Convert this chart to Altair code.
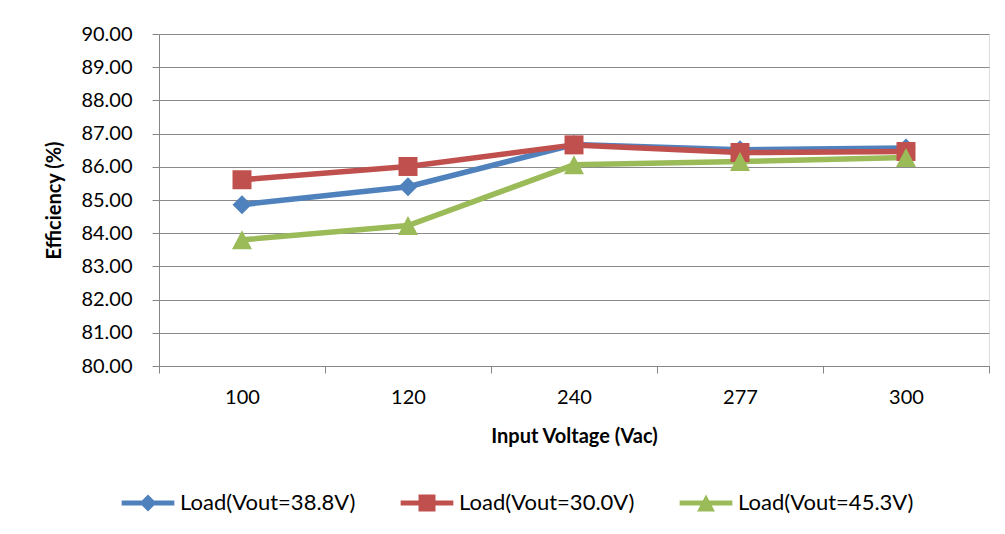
import altair as alt
import pandas as pd

categories = ["100", "120", "240", "277", "300"]
series_names = ["Load(Vout=38.8V)", "Load(Vout=30.0V)", "Load(Vout=45.3V)"]
eff_388 = [84.86, 85.40, 86.67, 86.51, 86.57]
eff_300 = [85.61, 86.01, 86.66, 86.43, 86.46]
eff_453 = [83.80, 84.23, 86.06, 86.16, 86.28]
colors = ["#4F81BD", "#C0504D", "#9BBB59"]

marker_paths = [
    "M0,-1L1,0L0,1L-1,0Z",
    "M-1,-1H1V1H-1Z",
    "M0,-1L1.05,1L-1.05,1Z",
]
bar = "M-3.1,-0.3H3.1V0.3H-3.1Z "
legend_paths = [bar + p for p in marker_paths]

rows = []
for name, vals in zip(series_names, [eff_388, eff_300, eff_453]):
    for c, v in zip(categories, vals):
        rows.append({"voltage": c, "eff": v, "series": name})
df = pd.DataFrame(rows)

FONT = "Lato"

legend = alt.Legend(
    title=None,
    orient="none",
    legendX=-22,
    legendY=458,
    direction="horizontal",
    columns=3,
    symbolSize=289,
    symbolStrokeWidth=0,
    symbolOpacity=1,
    labelOffset=21,
    columnPadding=44,
    labelFont=FONT,
    labelFontSize=22,
    labelColor="#000000",
    labelLimit=400,
    padding=0,
)

x_enc = alt.X(
    "voltage:N",
    sort=categories,
    bandPosition=0.5,
    scale=alt.Scale(type="band", domain=categories, paddingInner=0, paddingOuter=0),
    axis=alt.Axis(
        title="Input Voltage (Vac)",
        tickBand="extent",
        labelAngle=0,
        labelFont=FONT,
        labelFontSize=20,
        labelColor="#000000",
        labelPadding=14,
        tickSize=7,
        tickColor="#868686",
        domainColor="#868686",
        titleFont=FONT,
        titleFontSize=20,
        titleFontWeight="bold",
        titleColor="#000000",
        titlePadding=19,
        grid=False,
    ),
)
y_enc = alt.Y(
    "eff:Q",
    scale=alt.Scale(domain=[80, 90], nice=False, zero=False),
    axis=alt.Axis(
        title="Efficiency (%)",
        values=list(range(80, 91)),
        format=".2f",
        labelFont=FONT,
        labelFontSize=20,
        labelColor="#000000",
        labelPadding=20,
        tickSize=7,
        tickColor="#868686",
        domainColor="#868686",
        gridColor="#8a8a8a",
        gridWidth=1,
        titleFont=FONT,
        titleFontSize=20,
        titleFontWeight="bold",
        titleColor="#000000",
        titlePadding=16,
    ),
)
color_scale = alt.Scale(domain=series_names, range=colors)
color_enc = alt.Color("series:N", scale=color_scale, legend=legend)

lines = alt.Chart(df).mark_line(strokeWidth=5.5).encode(
    x=x_enc,
    y=y_enc,
    color=color_enc,
    detail="series:N",
)

point_layers = []
for name, path in zip(series_names, marker_paths):
    point_layers.append(
        alt.Chart(df)
        .transform_filter(alt.datum.series == name)
        .mark_point(filled=True, opacity=1, size=361, strokeWidth=0, shape=path)
        .encode(x=x_enc, y=y_enc, color=color_enc)
    )

# legend-only layer: marks are placed outside the plot and clipped away
legend_layer = alt.Chart(df).mark_point(filled=True, opacity=1, size=289, clip=True).encode(
    x=x_enc,
    y=alt.value(-60),
    color=color_enc,
    shape=alt.Shape(
        "series:N",
        scale=alt.Scale(domain=series_names, range=legend_paths),
        legend=legend,
    ),
)

chart = (
    alt.layer(lines, *point_layers, legend_layer)
    .properties(
        width=830,
        height=332,
        autosize=alt.AutoSizeParams(type="none"),
        padding={"left": 151, "top": 26, "right": 8, "bottom": 152},
    )
    .configure_view(stroke=None)
    .configure(background="#ffffff")
)

chart.save("out.html", embed_options={"renderer": "svg", "actions": False})
